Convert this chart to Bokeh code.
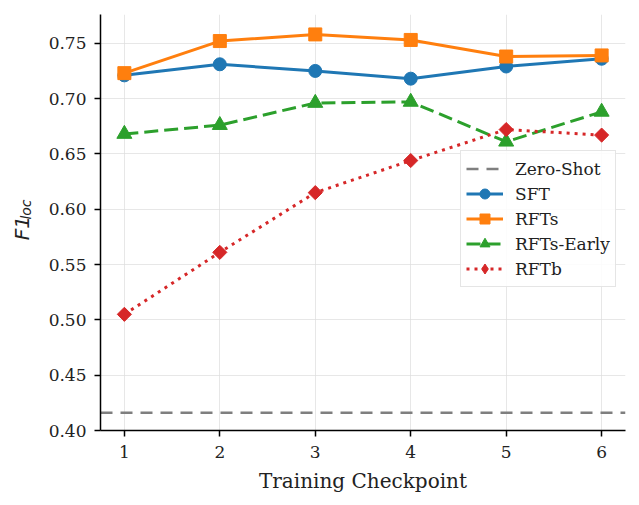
import math
from bokeh.plotting import figure
from bokeh.layouts import row
from bokeh.models import Range1d, Legend, LegendItem, FixedTicker, CustomJSTickFormatter
from bokeh.core.properties import value
from bokeh.embed import file_html
from bokeh.resources import INLINE

# F1_loc scores per training checkpoint
checkpoints = [1, 2, 3, 4, 5, 6]
sft = [0.721, 0.731, 0.725, 0.718, 0.729, 0.736]
rfts = [0.723, 0.752, 0.758, 0.753, 0.738, 0.739]
rfts_early = [0.668, 0.676, 0.696, 0.697, 0.661, 0.688]
rftb = [0.505, 0.561, 0.615, 0.644, 0.672, 0.667]
zero_shot = 0.416

y_ticks = [0.40, 0.45, 0.50, 0.55, 0.60, 0.65, 0.70, 0.75]

SERIF = "DejaVu Serif"
INK = "#222222"
H = 505
STRIP_W = 45

x_lo, x_hi = checkpoints[0] - 0.25, checkpoints[-1] + 0.25

p = figure(width=639 - STRIP_W, height=H, output_backend="svg", toolbar_location=None,
           x_range=Range1d(x_lo, x_hi), y_range=Range1d(0.40, 0.776),
           min_border_left=99 - STRIP_W, min_border_right=14, min_border_top=14,
           min_border_bottom=75)
p.outline_line_color = None
p.background_fill_color = "white"
p.border_fill_color = "white"

# axes
p.xaxis.ticker = FixedTicker(ticks=checkpoints)
p.yaxis.ticker = FixedTicker(ticks=y_ticks)
p.yaxis.formatter = CustomJSTickFormatter(code="return tick.toFixed(2);")
for ax in (p.xaxis[0], p.yaxis[0]):
    ax.axis_line_color = "black"
    ax.axis_line_width = 1.5
    ax.major_tick_line_color = "black"
    ax.major_tick_line_width = 1.5
    ax.major_tick_out = 6
    ax.major_tick_in = 0
    ax.minor_tick_line_color = None
    ax.major_label_text_font = SERIF
    ax.major_label_text_font_size = "17px"
    ax.major_label_text_color = INK
p.xaxis.major_label_standoff = 9
p.yaxis.major_label_standoff = 8
p.xaxis.axis_label = "Training Checkpoint"
p.xaxis.axis_label_text_font = SERIF
p.xaxis.axis_label_text_font_size = "20px"
p.xaxis.axis_label_text_font_style = "normal"
p.xaxis.axis_label_text_color = INK
p.xaxis.axis_label_standoff = 8

p.grid.grid_line_color = "#dddddd"
p.grid.grid_line_alpha = 0.7
p.grid.grid_line_width = 1

# zero-shot baseline across the full width
zs = p.line([x_lo, x_hi], [zero_shot, zero_shot], line_color="#7f7f7f", line_width=2.5,
            line_dash="12 8")

# name, values, colour, dash, plot marker, size, angle, legend marker
series = [
    ("SFT", sft, "#1f77b4", "solid", "circle", 13, 0, "circle"),
    ("RFTs", rfts, "#ff7f0e", "solid", "square", 13, 0, "square"),
    ("RFTs-Early", rfts_early, "#2ca02c", "14 6", "triangle", 15, 0, "triangle"),
    ("RFTb", rftb, "#d62728", "3 5", "square", 10, math.pi / 4, "diamond"),
]

items = [LegendItem(label="Zero-Shot", renderers=[zs])]
for name, vals, color, dash, marker, size, ang, leg_marker in series:
    ln = p.line(checkpoints, vals, line_color=color, line_width=3, line_dash=dash)
    sc = p.scatter(checkpoints, vals, marker=marker, size=size, angle=ang,
                   fill_color=color, line_color=color)
    if leg_marker == marker:
        items.append(LegendItem(label=name, renderers=[ln, sc]))
    else:
        # legend swatch for the rotated-square marker
        sw = p.scatter(checkpoints, vals, marker=leg_marker, size=0,
                       fill_color=color, line_color=color)
        items.append(LegendItem(label=name, renderers=[ln, sw]))

legend = Legend(items=items, location=(360, 143))
legend.label_text_font = SERIF
legend.label_text_font_size = "17px"
legend.label_text_color = INK
legend.glyph_width = 37
legend.glyph_height = 25
legend.label_height = 25
legend.spacing = 0
legend.padding = 5
legend.margin = 0
legend.label_standoff = 12
legend.border_line_color = "#cccccc"
legend.border_line_width = 1
legend.background_fill_alpha = 0.85
p.add_layout(legend)

# narrow strip to the left carrying the rotated y-axis title: F1 with subscript "loc"
strip = figure(width=STRIP_W, height=H, output_backend="svg", toolbar_location=None,
               x_range=Range1d(0, STRIP_W), y_range=Range1d(0, H),
               x_axis_type=None, y_axis_type=None,
               min_border_left=0, min_border_right=0, min_border_top=0, min_border_bottom=0)
strip.outline_line_color = None
strip.grid.visible = False
strip.border_fill_color = "white"
strip.text(x=[21], y=[H - 274], text=["F1"], angle=math.pi / 2,
           text_font=value("DejaVu Sans"), text_font_style="italic", text_font_size="20px",
           text_align="left", text_baseline="alphabetic", text_color=INK)
strip.text(x=[25], y=[H - 249], text=["loc"], angle=math.pi / 2,
           text_font=value("DejaVu Sans"), text_font_style="italic", text_font_size="14px",
           text_align="left", text_baseline="alphabetic", text_color=INK)

layout = row(strip, p, spacing=0)
open("out.html", "w").write(file_html(layout, INLINE))
